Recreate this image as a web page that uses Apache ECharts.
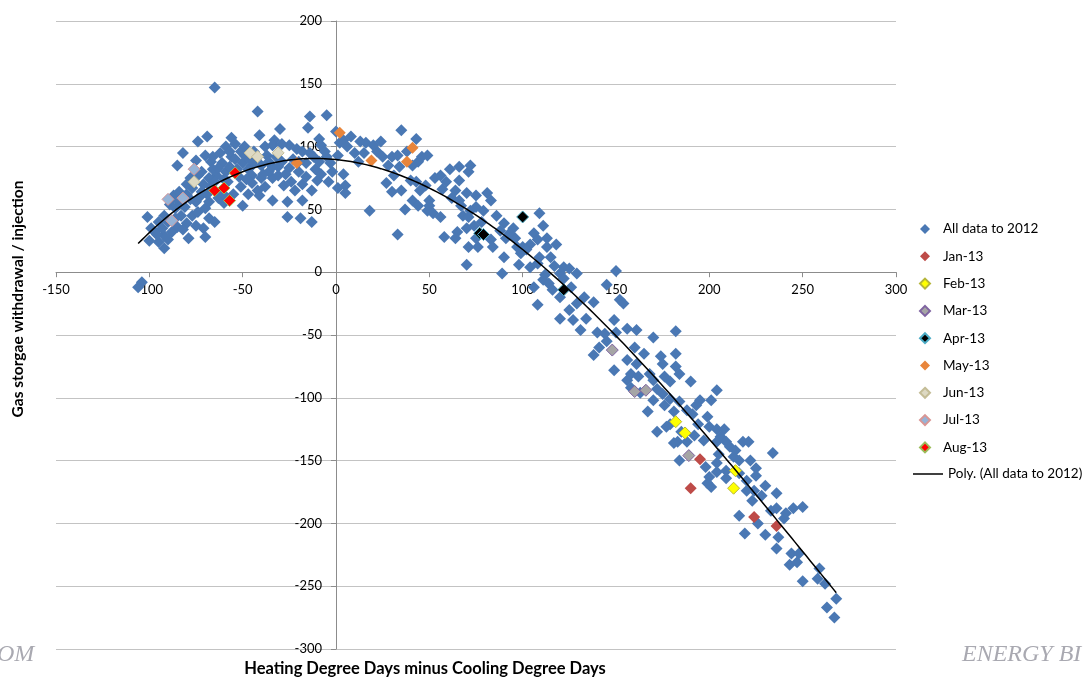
<!DOCTYPE html>
<html>
<head>
<meta charset="utf-8">
<script src="https://cdn.jsdelivr.net/npm/echarts@6/dist/echarts.min.js"></script>
<style>
  html, body { margin: 0; padding: 0; background: #fff; }
  #main { width: 1091px; height: 677px; }
</style>
</head>
<body>
<div id="main"></div>
<script>
// x: heating degree days minus cooling degree days, y: storage withdrawal / injection
const allData = [
  [-65,147],[-42,128],[-14,124],[-5,125],[-30,114],[-15,115],[-69,108],[-74,104],[-56,107],[-41,109],
  [-33,105],[-25,101],[-9,106],[-8,101],[-82,95],[-59,100],[-54,102],[-51,96],[-49,100],[-38,100],
  [-34,101],[-29,102],[-18,96],[-14,95],[-5,92],[1,93],[-85,85],[-75,89],[-70,93],[-67,88],
  [-61,87],[-56,92],[-50,87],[-45,85],[-40,85],[-34,84],[-29,88],[-25,83],[-20,80],[-16,87],
  [-11,82],[-8,78],[-2,80],[4,78],[5,69],[-72,80],[-68,75],[-64,77],[-58,72],[-51,68],
  [-45,71],[-42,65],[-40,75],[-34,75],[-31,77],[-28,69],[-18,70],[-13,65],[-10,73],[-4,72],
  [1,67],[5,63],[-77,67],[-72,64],[-67,68],[-63,59],[-75,56],[-81,52],[-70,51],[-68,56],
  [-59,60],[-41,61],[-34,57],[-26,56],[-18,57],[-50,53],[-86,51],[-92,45],[-95,40],[-101,44],
  [-99,35],[-85,36],[-80,39],[-68,43],[-65,40],[-71,35],[-70,28],[-79,27],[-88,32],[-92,29],
  [-95,24],[-92,19],[-100,25],[-104,-8],[-106,-12],[-26,44],[-19,43],[-13,40],[-54,90],[-49,93],
  [-45,77],[-59,80],[-65,72],[-97,32],[-93,35],[-90,40],[-77,45],[-75,37],[-83,45],[-84,56],
  [-87,61],[-74,77],[-78,75],[-62,95],[-57,84],[-52,76],[-47,82],[-43,90],[-37,93],[-36,80],
  [-32,92],[-23,90],[-21,98],[-12,92],[-66,82],[-80,62],[-89,54],[-78,58],[-73,60],[-62,64],
  [-55,62],[-47,62],[-38,68],[-22,65],
  [-88,58],[-84,64],[-80,70],[-76,82],[-71,70],[-69,62],[-66,92],[-63,83],[-60,74],[-57,96],
  [-53,82],[-48,74],[-46,90],[-44,96],[-39,78],[-36,88],[-31,84],[-27,78],[-24,72],[-20,88],
  [-16,76],[-9,88],[-6,96],[-96,30],[-90,26],[-86,43],[-82,34],[-74,48],[-60,55],
  [0,112],[8,108],[13,104],[16,103],[4,105],[2,103],[10,95],[15,95],[22,96],[25,92],
  [28,85],[30,92],[33,93],[35,113],[43,106],[46,92],[49,93],[44,88],[41,85],[34,84],
  [31,77],[27,71],[30,64],[35,65],[40,73],[43,72],[45,65],[48,69],[41,57],[44,53],
  [50,57],[50,53],[52,47],[56,44],[49,49],[37,50],[18,49],[33,30],[-3,87],
  [6,100],[12,88],[20,101],[24,104],[38,96],[53,75],[57,66],[62,59],[68,45],[78,40],
  [86,45],[95,35],[104,22],[117,5],[112,-2],[126,-12],
  [56,77],[61,82],[66,84],[71,80],[72,85],[66,73],[59,72],[64,65],[70,63],[75,61],
  [81,63],[83,57],[79,49],[75,52],[72,49],[67,53],[66,57],[71,44],[74,37],[70,35],
  [65,32],[64,27],[58,28],[71,20],[76,20],[75,27],[83,26],[84,20],[90,39],[88,33],
  [91,27],[90,12],[96,27],[97,20],[93,31],[100,20],[102,18],[99,15],[98,6],[89,-1],
  [70,6],[106,31],[109,47],[111,37],[108,26],[113,27],[113,20],[109,12],[115,12],[118,22],
  [122,4],[125,3],[120,-1],[129,-1],[108,7],[104,4],[111,-6],[114,-9],[108,-26],[116,-14],
  [120,-20],[125,-30],[129,-25],[127,-38],[120,-37],[122,-5],[106,-12],
  [150,1],[145,-10],[138,-24],[133,-20],[152,-22],[154,-25],[134,-37],[149,-38],[131,-46],[140,-48],
  [144,-49],[150,-48],[156,-45],[161,-46],[170,-52],[182,-47],[141,-60],[138,-66],[149,-78],[156,-70],
  [158,-81],[161,-73],[156,-86],[162,-83],[168,-81],[174,-67],[175,-73],[182,-65],[182,-75],[184,-81],
  [190,-87],[179,-87],[176,-83],[172,-93],[175,-97],[170,-102],[167,-111],[179,-101],[184,-103],[188,-110],
  [191,-113],[195,-102],[201,-102],[204,-94],[194,-121],[199,-115],[200,-123],[204,-125],[208,-125],[206,-131],
  [209,-135],[204,-135],[211,-139],[218,-135],[221,-135],[213,-147],[216,-150],[222,-150],[225,-156],[225,-162],
  [220,-166],[209,-164],[204,-152],[198,-155],[200,-163],[201,-171],[199,-168],[197,-134],[188,-135],[183,-135],
  [181,-136],[184,-150],[172,-127],[179,-121],[177,-123],[185,-127],[192,-130],[204,-159],[209,-158],[216,-160],
  [220,-174],[224,-174],[223,-182],[216,-194],[219,-208],[226,-200],[230,-209],[236,-176],[234,-144],[233,-190],
  [236,-188],[241,-192],[245,-188],[250,-187],[237,-211],[236,-220],[244,-224],[248,-224],[243,-233],[247,-231],
  [250,-246],[258,-244],[259,-236],[262,-248],[263,-267],[268,-260],[267,-275],
  [145,-55],[160,-60],[165,-65],[158,-92],[163,-96],[170,-86],[176,-106],[181,-111],[193,-106],[205,-145],
  [214,-142],[230,-170],[228,-178],[240,-196]
];
const jan13 = [[195,-149],[190,-172],[224,-195],[236,-202]];
const feb13 = [[182,-119],[187,-128],[214,-158],[213,-172]];
const mar13 = [[148,-62],[160,-95],[166,-94],[189,-146]];
const apr13 = [[100,44],[77,31],[79,30],[122,-14]];
const may13 = [[2,111],[19,89],[41,99],[38,88],[-21,87]];
const jun13 = [[-46,95],[-42,92],[-31,95],[-76,72]];
const jul13 = [[-76,82],[-90,58],[-82,59],[-88,41]];
const aug13 = [[-54,79],[-65,65],[-60,67],[-57,57]];

const monthNames = ['Jan-13', 'Feb-13', 'Mar-13', 'Apr-13', 'May-13', 'Jun-13', 'Jul-13', 'Aug-13'];

const xTicks = { min: -150, max: 300, step: 50 };
const yTicks = { min: -300, max: 200, step: 50 };

const fontFamily = 'Lato, "Open Sans", sans-serif';

// plot box in pixels
const plot = { left: 56, top: 21, width: 840, height: 628 };

// least squares polynomial, same kind as the spreadsheet trendline
const polyFit = (pts, order) => {
    const n = order + 1;
    const A = Array.from({ length: n }, () => new Array(n + 1).fill(0));
    pts.forEach(([x, y]) => {
        const t = x / 100;
        for (let i = 0; i < n; i++) {
            for (let j = 0; j < n; j++) A[i][j] += Math.pow(t, i + j);
            A[i][n] += y * Math.pow(t, i);
        }
    });
    for (let c = 0; c < n; c++) {
        let p = c;
        for (let r = c + 1; r < n; r++) if (Math.abs(A[r][c]) > Math.abs(A[p][c])) p = r;
        [A[c], A[p]] = [A[p], A[c]];
        for (let r = 0; r < n; r++) {
            if (r === c) continue;
            const f = A[r][c] / A[c][c];
            for (let k = c; k <= n; k++) A[r][k] -= f * A[c][k];
        }
    }
    return A.map((row, i) => row[n] / row[i]);
};

const coef = polyFit(allData, 3);
const xs = allData.map(d => d[0]);
const xMin = Math.min(...xs), xMax = Math.max(...xs);
const trend = [];
for (let x = xMin; x <= xMax; x += 2) {
    const t = x / 100;
    trend.push([x, coef.reduce((s, c, i) => s + c * Math.pow(t, i), 0)]);
}

// axes cross at zero, move them in from the plot edges
const xAxisShift = -plot.height * (0 - yTicks.min) / (yTicks.max - yTicks.min);
const yAxisShift = -plot.width * (0 - xTicks.min) / (xTicks.max - xTicks.min);

const diamond = 'path://M5,0L10,5L5,10L0,5Z';

const scatter = (name, data, color, border) => ({
    name: name,
    type: 'scatter',
    data: data,
    symbol: 'diamond',
    symbolSize: 12,
    itemStyle: { color: color, opacity: 1, borderColor: border || color, borderWidth: border ? 1 : 0 }
});

const axisGray = '#8c8c8c';

const chart = echarts.init(document.getElementById('main'));
chart.setOption({
    animation: false,
    textStyle: { fontFamily: fontFamily },
    grid: { left: plot.left, top: plot.top, width: plot.width, height: plot.height, containLabel: false },
    legend: [
        {
            orient: 'vertical',
            left: 914,
            top: 217,
            itemWidth: 26,
            itemHeight: 10,
            itemGap: 13.3,
            icon: diamond,
            textStyle: { fontSize: 13.5, color: '#000', fontFamily: fontFamily },
            data: ['All data to 2012'].concat(monthNames)
        },
        {
            orient: 'vertical',
            left: 908,
            top: 462,
            itemWidth: 30,
            itemHeight: 1.5,
            icon: 'rect',
            textStyle: { fontSize: 13.5, color: '#000', fontFamily: fontFamily },
            data: ['Poly. (All data to 2012)']
        }
    ],
    xAxis: {
        type: 'value',
        min: xTicks.min, max: xTicks.max, interval: xTicks.step,
        position: 'bottom',
        offset: xAxisShift,
        axisLine: { onZero: false, lineStyle: { color: axisGray } },
        axisTick: { show: true, length: 5, lineStyle: { color: axisGray } },
        axisLabel: { color: '#000', fontSize: 13, margin: 11 },
        splitLine: { show: false }
    },
    yAxis: {
        type: 'value',
        min: yTicks.min, max: yTicks.max, interval: yTicks.step,
        position: 'left',
        offset: yAxisShift,
        axisLine: { show: true, onZero: false, lineStyle: { color: axisGray } },
        axisTick: { show: true, length: 5, lineStyle: { color: axisGray } },
        axisLabel: { color: '#000', fontSize: 13, margin: 14 },
        splitLine: { show: true, lineStyle: { color: '#c3c3c3' } }
    },
    graphic: [
        { type: 'text', x: 18, y: 299, rotation: Math.PI / 2,
          style: { text: 'Gas storgae withdrawal / injection', font: 'bold 15.5px ' + fontFamily,
                   fill: '#000', align: 'center', verticalAlign: 'middle' } },
        { type: 'text', x: 425, y: 669,
          style: { text: 'Heating Degree Days minus Cooling Degree Days', font: 'bold 16.5px ' + fontFamily,
                   fill: '#000', align: 'center', verticalAlign: 'middle' } },
        { type: 'text', x: -3, y: 655,
          style: { text: 'OM', font: 'italic 24px "Liberation Serif", serif', fill: '#a9a9b1',
                   align: 'left', verticalAlign: 'middle' } },
        { type: 'text', x: 962, y: 655,
          style: { text: 'ENERGY BI', font: 'italic 24px "Liberation Serif", serif', fill: '#a9a9b1',
                   align: 'left', verticalAlign: 'middle' } }
    ],
    series: [
        scatter('All data to 2012', allData, '#4a78b4'),
        scatter('Jan-13', jan13, '#be4b48'),
        scatter('Feb-13', feb13, '#ffff00', '#b5b53a'),
        scatter('Mar-13', mar13, '#a5a5a5', '#7f63a1'),
        scatter('Apr-13', apr13, '#000000', '#4bacc6'),
        scatter('May-13', may13, '#e8853b'),
        scatter('Jun-13', jun13, '#ddd9c3', '#c4bd97'),
        scatter('Jul-13', jul13, '#95b3d7', '#d99694'),
        scatter('Aug-13', aug13, '#ff0000', '#9bbb59'),
        {
            name: 'Poly. (All data to 2012)',
            type: 'line',
            data: trend,
            symbol: 'none',
            z: 3,
            color: '#000',
            lineStyle: { color: '#000', width: 1.5 },
            itemStyle: { color: '#000' }
        }
    ]
});
</script>
</body>
</html>
